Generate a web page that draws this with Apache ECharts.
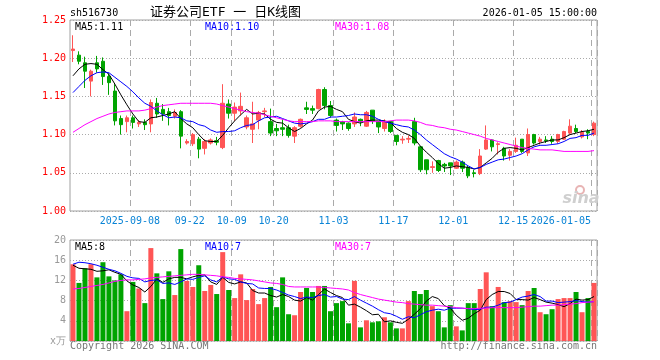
<!DOCTYPE html>
<html><head><meta charset="utf-8">
<script src="https://cdn.jsdelivr.net/npm/echarts@6/dist/echarts.min.js"></script>
<style>html,body{margin:0;padding:0;background:#fff}#c{width:660px;height:360px}</style>
</head><body><div id="c"></div>
<script>
const dates = ['2025-08-25','2025-08-26','2025-08-27','2025-08-28','2025-08-29','2025-09-01','2025-09-02','2025-09-03','2025-09-04','2025-09-05',
'2025-09-08','2025-09-09','2025-09-10','2025-09-11','2025-09-12','2025-09-15','2025-09-16','2025-09-17','2025-09-18','2025-09-19',
'2025-09-22','2025-09-23','2025-09-24','2025-09-25','2025-09-26','2025-09-29','2025-09-30','2025-10-09','2025-10-10','2025-10-13',
'2025-10-14','2025-10-15','2025-10-16','2025-10-17','2025-10-20','2025-10-21','2025-10-22','2025-10-23','2025-10-24','2025-10-27',
'2025-10-28','2025-10-29','2025-10-30','2025-10-31','2025-11-03','2025-11-04','2025-11-05','2025-11-06','2025-11-07','2025-11-10',
'2025-11-11','2025-11-12','2025-11-13','2025-11-14','2025-11-17','2025-11-18','2025-11-19','2025-11-20','2025-11-21','2025-11-24',
'2025-11-25','2025-11-26','2025-11-27','2025-11-28','2025-12-01','2025-12-02','2025-12-03','2025-12-04','2025-12-05','2025-12-08',
'2025-12-09','2025-12-10','2025-12-11','2025-12-12','2025-12-15','2025-12-16','2025-12-17','2025-12-18','2025-12-19','2025-12-22',
'2025-12-23','2025-12-24','2025-12-25','2025-12-26','2025-12-29','2025-12-30','2025-12-31','2026-01-05'];

const opens = [1.210,1.204,1.194,1.170,1.194,1.196,1.176,1.157,1.121,1.117,
1.122,1.114,1.116,1.114,1.141,1.133,1.130,1.124,1.130,1.089,
1.088,1.094,1.082,1.089,1.092,1.083,1.140,1.128,1.131,1.110,
1.107,1.119,1.130,1.117,1.108,1.109,1.109,1.098,1.111,1.135,
1.134,1.134,1.159,1.138,1.119,1.117,1.115,1.114,1.120,1.111,
1.132,1.117,1.108,1.117,1.099,1.093,1.094,1.117,1.084,1.067,
1.057,1.066,1.061,1.063,1.056,1.064,1.057,1.050,1.049,1.081,
1.093,1.087,1.082,1.073,1.078,1.094,1.076,1.100,1.091,1.093,
1.094,1.091,1.094,1.102,1.108,1.097,1.104,1.100];
const closes = [1.212,1.196,1.183,1.183,1.186,1.176,1.168,1.118,1.113,1.122,
1.116,1.116,1.113,1.142,1.127,1.127,1.125,1.129,1.098,1.091,
1.100,1.081,1.091,1.093,1.090,1.141,1.128,1.136,1.137,1.122,
1.114,1.129,1.131,1.102,1.105,1.107,1.099,1.109,1.120,1.133,
1.132,1.159,1.138,1.125,1.112,1.114,1.108,1.123,1.117,1.129,
1.118,1.110,1.117,1.104,1.091,1.094,1.095,1.089,1.054,1.054,
1.058,1.053,1.059,1.059,1.064,1.056,1.046,1.049,1.072,1.093,
1.084,1.088,1.072,1.078,1.086,1.078,1.100,1.089,1.094,1.092,
1.091,1.100,1.104,1.111,1.104,1.103,1.102,1.115];
const lows = [1.195,1.192,1.161,1.150,1.181,1.165,1.152,1.112,1.100,1.103,
1.108,1.110,1.106,1.103,1.122,1.118,1.112,1.121,1.082,1.087,
1.085,1.069,1.074,1.087,1.086,1.081,1.121,1.118,1.125,1.107,
1.089,1.107,1.123,1.098,1.098,1.098,1.096,1.089,1.109,1.127,
1.127,1.133,1.133,1.122,1.104,1.106,1.105,1.110,1.111,1.110,
1.114,1.102,1.104,1.102,1.086,1.088,1.089,1.086,1.051,1.048,
1.050,1.051,1.051,1.047,1.055,1.051,1.043,1.044,1.047,1.080,
1.078,1.074,1.066,1.066,1.076,1.076,1.072,1.087,1.087,1.089,
1.088,1.088,1.093,1.100,1.102,1.095,1.094,1.098];
const highs = [1.230,1.209,1.202,1.185,1.203,1.201,1.180,1.166,1.125,1.125,
1.125,1.119,1.120,1.146,1.148,1.140,1.135,1.133,1.132,1.094,
1.102,1.097,1.094,1.095,1.097,1.166,1.146,1.142,1.155,1.125,
1.143,1.131,1.135,1.134,1.114,1.120,1.113,1.111,1.121,1.143,
1.138,1.160,1.162,1.144,1.121,1.118,1.116,1.129,1.121,1.131,
1.132,1.117,1.120,1.118,1.099,1.098,1.099,1.122,1.085,1.067,
1.065,1.067,1.063,1.063,1.066,1.066,1.059,1.054,1.081,1.112,
1.094,1.090,1.084,1.081,1.096,1.094,1.108,1.101,1.097,1.098,
1.098,1.101,1.105,1.120,1.113,1.106,1.107,1.117];

const ma5 = [1.177,1.186,1.192,1.193,1.192,1.185,1.179,1.166,1.152,1.139,
1.127,1.117,1.116,1.122,1.123,1.125,1.127,1.130,1.121,1.114,
1.109,1.100,1.092,1.091,1.091,1.099,1.109,1.118,1.126,1.133,
1.127,1.128,1.127,1.120,1.116,1.115,1.109,1.104,1.108,1.114,
1.119,1.131,1.136,1.137,1.133,1.130,1.120,1.117,1.115,1.118,
1.119,1.119,1.118,1.116,1.108,1.103,1.100,1.095,1.085,1.077,
1.070,1.062,1.056,1.057,1.059,1.058,1.057,1.055,1.057,1.063,
1.069,1.077,1.082,1.083,1.082,1.080,1.083,1.086,1.089,1.091,
1.093,1.093,1.096,1.100,1.102,1.104,1.105,1.107];
const ma10 = [1.155,1.163,1.171,1.177,1.181,1.182,1.181,1.175,1.169,1.163,
1.156,1.148,1.141,1.137,1.131,1.126,1.122,1.123,1.122,1.118,
1.117,1.113,1.111,1.106,1.103,1.104,1.104,1.105,1.109,1.112,
1.113,1.118,1.122,1.123,1.124,1.121,1.118,1.115,1.114,1.115,
1.117,1.120,1.120,1.123,1.123,1.124,1.125,1.127,1.126,1.126,
1.124,1.120,1.117,1.115,1.113,1.111,1.110,1.106,1.100,1.093,
1.087,1.081,1.075,1.071,1.068,1.064,1.059,1.055,1.057,1.061,
1.064,1.067,1.068,1.070,1.072,1.075,1.080,1.084,1.086,1.086,
1.087,1.088,1.091,1.095,1.096,1.099,1.099,1.102];
const ma30 = [1.103,1.108,1.113,1.117,1.121,1.124,1.127,1.129,1.130,1.131,
1.131,1.131,1.132,1.134,1.136,1.138,1.139,1.140,1.141,1.141,
1.141,1.141,1.141,1.141,1.140,1.138,1.136,1.134,1.132,1.130,
1.129,1.128,1.126,1.124,1.122,1.120,1.118,1.117,1.117,1.117,
1.117,1.118,1.118,1.118,1.117,1.117,1.117,1.117,1.117,1.117,
1.117,1.117,1.117,1.118,1.119,1.119,1.119,1.118,1.116,1.113,
1.112,1.110,1.109,1.107,1.106,1.104,1.102,1.100,1.098,1.095,
1.093,1.091,1.089,1.087,1.085,1.083,1.082,1.081,1.080,1.080,
1.080,1.079,1.078,1.078,1.078,1.078,1.078,1.079];

const volumes = [15.2,11.5,14.4,15.2,12.6,15.6,12.8,12.0,13.2,5.9,
11.7,10.4,7.5,18.4,13.4,8.3,13.8,9.1,18.2,11.9,
10.7,15.0,9.9,11.1,9.3,17.6,10.1,8.5,13.2,8.1,
10.3,7.3,8.5,10.7,6.7,12.6,5.3,5.1,9.7,10.5,
9.7,10.9,10.9,5.9,7.5,7.9,3.5,11.9,2.7,4.1,
3.7,3.9,4.7,3.7,2.5,2.5,7.9,9.9,9.3,10.1,
6.9,5.9,2.7,7.1,2.9,2.1,7.5,7.5,10.3,13.6,
6.9,10.7,7.7,7.9,7.7,7.1,9.9,10.5,5.7,5.3,
6.3,8.3,8.5,8.5,9.7,5.7,8.5,11.5];
const volMa5 = [15.0,14.4,14.3,14.2,13.8,13.9,14.1,13.6,13.2,11.9,
11.1,10.6,9.7,10.8,12.3,11.6,12.3,12.6,12.6,12.3,
12.7,13.0,13.1,11.7,11.2,12.6,11.6,11.3,11.7,11.5,
10.0,9.5,9.5,9.0,8.7,9.2,8.8,8.1,7.9,8.6,
8.1,9.2,10.3,9.6,9.0,8.6,7.1,7.3,6.7,6.0,
5.2,5.3,3.8,4.0,3.7,3.5,4.3,5.3,6.4,7.9,
8.8,8.4,7.0,6.5,5.1,4.1,4.5,5.4,6.1,8.2,
9.2,9.8,9.8,9.4,8.2,8.2,8.1,8.6,8.2,7.7,
7.5,7.2,6.8,7.4,8.3,8.1,8.2,8.8];
const volMa10 = [15.2,15.6,15.5,15.3,15.0,14.6,14.2,13.9,13.4,12.8,
12.5,12.4,11.7,12.0,12.1,11.4,11.5,11.2,11.7,12.3,
12.2,12.6,12.9,12.1,11.7,12.7,12.3,12.2,11.7,11.4,
11.3,10.5,10.4,10.4,10.1,9.6,9.1,8.8,8.4,8.7,
8.6,9.0,9.2,8.7,8.8,8.3,8.2,8.8,8.1,7.5,
6.9,6.2,5.6,5.4,4.9,4.3,4.8,4.6,5.2,5.8,
6.1,6.3,6.1,6.5,6.5,6.5,6.4,6.2,6.3,6.7,
6.7,7.1,7.6,7.7,8.2,8.7,8.9,9.2,8.8,7.9,
7.9,7.6,7.7,7.8,8.0,7.8,7.7,7.8];
const volMa30 = [10.3,10.4,10.6,10.8,11.0,11.2,11.5,11.8,12.0,12.1,
12.1,12.2,12.3,12.5,12.6,12.7,12.8,12.9,13.0,13.1,
13.2,13.2,13.1,13.0,12.9,12.7,12.6,12.4,12.3,12.2,
12.1,11.9,11.7,11.5,11.4,11.2,10.8,10.7,10.7,10.7,
10.7,10.7,10.6,10.5,10.4,10.3,10.1,9.6,9.2,8.9,
8.6,8.3,8.1,7.9,7.7,7.6,7.4,7.3,7.2,7.1,
7.1,7.0,6.9,6.8,6.6,6.5,6.4,6.4,6.5,6.5,
6.6,6.6,6.6,6.6,6.6,6.7,6.8,6.9,6.9,7.0,
7.1,7.1,7.2,7.3,7.4,7.6,7.7,7.8];

const xTickIdx = [10,20,27,34,44,54,64,74,87];
const xTickText = ['2025-09-08','09-22','10-09','10-20','11-03','11-17','12-01','12-15','2026-01-05'];

const UP = '#ff5555', DOWN = '#00a400', GRIDC = '#aaaaaa', BORDER = '#a0a0a0';
const MONO = 'DejaVu Sans Mono';
const LABEL_BLUE = '#0a84d6';
const showTick = (i) => xTickIdx.indexOf(i) >= 0;
const lastTick = xTickIdx[xTickIdx.length - 1];

const chart = echarts.init(document.getElementById('c'), null, {renderer: 'canvas', width: 660, height: 360});

const splitLineCfg = {show: true, interval: (i) => showTick(i), lineStyle: {color: GRIDC, type: [6, 4], width: 1}};

const option = {
  animation: false,
  backgroundColor: '#ffffff',
  grid: [
    {left: 70, top: 20, width: 527, height: 191, show: true, borderColor: BORDER, borderWidth: 1, backgroundColor: 'transparent', containLabel: false, outerBoundsMode: 'none'},
    {left: 70, top: 240, width: 527, height: 101, show: true, borderColor: BORDER, borderWidth: 1, backgroundColor: 'transparent', containLabel: false, outerBoundsMode: 'none'}
  ],
  xAxis: [
    {type: 'category', data: dates, gridIndex: 0, boundaryGap: true,
     axisLine: {show: false}, axisTick: {show: false},
     axisLabel: {show: true, interval: (i) => showTick(i) && i !== lastTick,
       formatter: (v, i) => xTickText[xTickIdx.indexOf(i)],
       color: LABEL_BLUE, fontFamily: MONO, fontSize: 10, margin: 5,
       showMaxLabel: true, showMinLabel: true, hideOverlap: false, padding: [0, 6, 0, 0]},
     splitLine: splitLineCfg},
    {type: 'category', data: dates, gridIndex: 1, boundaryGap: true,
     axisLine: {show: false}, axisTick: {show: false}, axisLabel: {show: false},
     splitLine: splitLineCfg},
    {type: 'category', data: dates, gridIndex: 0, boundaryGap: true, position: 'bottom',
     axisLine: {show: false}, axisTick: {show: false}, splitLine: {show: false},
     axisLabel: {show: true, interval: (i) => i === lastTick,
       formatter: (v, i) => xTickText[xTickIdx.indexOf(i)],
       color: LABEL_BLUE, fontFamily: MONO, fontSize: 10, margin: 5, align: 'right',
       showMaxLabel: true, hideOverlap: false, padding: [0, 3, 0, 0]}}
  ],
  yAxis: [
    {type: 'value', gridIndex: 0, min: 1.0, max: 1.25, interval: 0.05, scale: true,
     axisLine: {show: false}, axisTick: {show: false},
     axisLabel: {color: '#ff0000', fontFamily: MONO, fontSize: 10, margin: 4, formatter: (v) => v.toFixed(2)},
     splitLine: {show: true, lineStyle: {color: GRIDC, type: [1, 2], width: 1}}},
    {type: 'value', gridIndex: 1, min: 0, max: 20, interval: 4,
     axisLine: {show: false}, axisTick: {show: false},
     axisLabel: {color: '#999999', fontFamily: MONO, fontSize: 10, margin: 4, formatter: (v) => v === 0 ? 'x万' : String(v)},
     splitLine: {show: true, lineStyle: {color: GRIDC, type: [1, 2], width: 1}}}
  ],
  series: [
    {type: 'candlestick', xAxisIndex: 0, yAxisIndex: 0, barWidth: 4,
     data: dates.map((d, i) => [opens[i], closes[i], lows[i], highs[i]]),
     itemStyle: {color: UP, color0: DOWN, borderColor: UP, borderColor0: DOWN, borderWidth: 1}, z: 3},
    {name: 'MA5', type: 'line', data: ma5, xAxisIndex: 0, yAxisIndex: 0, symbol: 'none', silent: true, lineStyle: {color: '#000000', width: 1}, z: 5},
    {name: 'MA10', type: 'line', data: ma10, xAxisIndex: 0, yAxisIndex: 0, symbol: 'none', silent: true, lineStyle: {color: '#0000ff', width: 1}, z: 5},
    {name: 'MA30', type: 'line', data: ma30, xAxisIndex: 0, yAxisIndex: 0, symbol: 'none', silent: true, lineStyle: {color: '#ff00ff', width: 1}, z: 5},
    {type: 'bar', xAxisIndex: 1, yAxisIndex: 1, barWidth: 5,
     data: volumes.map((v, i) => ({value: v, itemStyle: {color: closes[i] >= opens[i] ? UP : DOWN}})), z: 3},
    {name: 'VMA5', type: 'line', data: volMa5, xAxisIndex: 1, yAxisIndex: 1, symbol: 'none', silent: true, lineStyle: {color: '#000000', width: 1}, z: 5},
    {name: 'VMA10', type: 'line', data: volMa10, xAxisIndex: 1, yAxisIndex: 1, symbol: 'none', silent: true, lineStyle: {color: '#0000ff', width: 1}, z: 5},
    {name: 'VMA30', type: 'line', data: volMa30, xAxisIndex: 1, yAxisIndex: 1, symbol: 'none', silent: true, lineStyle: {color: '#ff00ff', width: 1}, z: 5}
  ],
  graphic: [
    {type: 'text', x: 70, y: 13, style: {text: 'sh516730', fill: '#000', font: '10px ' + MONO, verticalAlign: 'middle', align: 'left'}},
    {type: 'text', x: 150, y: 13, style: {text: '证券公司ETF 一 日K线图', fill: '#000', font: '13px "DejaVu Sans Mono", "Noto Sans CJK SC"', verticalAlign: 'middle', align: 'left'}},
    {type: 'text', x: 597, y: 13, style: {text: '2026-01-05 15:00:00', fill: '#000', font: '10px ' + MONO, verticalAlign: 'middle', align: 'right'}},
    {type: 'text', x: 75, y: 27, style: {text: 'MA5:' + ma5[ma5.length - 1].toFixed(2), fill: '#000', font: '10px ' + MONO, verticalAlign: 'middle'}},
    {type: 'text', x: 205, y: 27, style: {text: 'MA10:' + ma10[ma10.length - 1].toFixed(2), fill: '#0000ff', font: '10px ' + MONO, verticalAlign: 'middle'}},
    {type: 'text', x: 335, y: 27, style: {text: 'MA30:' + ma30[ma30.length - 1].toFixed(2), fill: '#ff00ff', font: '10px ' + MONO, verticalAlign: 'middle'}},
    {type: 'text', x: 75, y: 247, style: {text: 'MA5:' + Math.floor(volMa5[volMa5.length - 1]), fill: '#000', font: '10px ' + MONO, verticalAlign: 'middle'}},
    {type: 'text', x: 205, y: 247, style: {text: 'MA10:' + Math.floor(volMa10[volMa10.length - 1]), fill: '#0000ff', font: '10px ' + MONO, verticalAlign: 'middle'}},
    {type: 'text', x: 335, y: 247, style: {text: 'MA30:' + Math.floor(volMa30[volMa30.length - 1]), fill: '#ff00ff', font: '10px ' + MONO, verticalAlign: 'middle'}},
    {type: 'text', x: 70, y: 346, style: {text: 'Copyright 2026 SINA.COM', fill: '#777', font: '10px ' + MONO, verticalAlign: 'middle'}},
    {type: 'text', x: 597, y: 346, style: {text: 'http://finance.sina.com.cn', fill: '#777', font: '10px ' + MONO, verticalAlign: 'middle', align: 'right'}},
    {type: 'circle', shape: {cx: 580, cy: 190, r: 4}, style: {fill: 'none', stroke: '#e8b4b4', lineWidth: 2}, z: 1},
    {type: 'text', x: 581, y: 199, style: {text: 'sina', fill: '#cfcfcf', font: 'italic bold 16px "DejaVu Sans"', verticalAlign: 'middle', align: 'center'}, z: 1}
  ]
};
chart.setOption(option);
</script>
</body></html>
